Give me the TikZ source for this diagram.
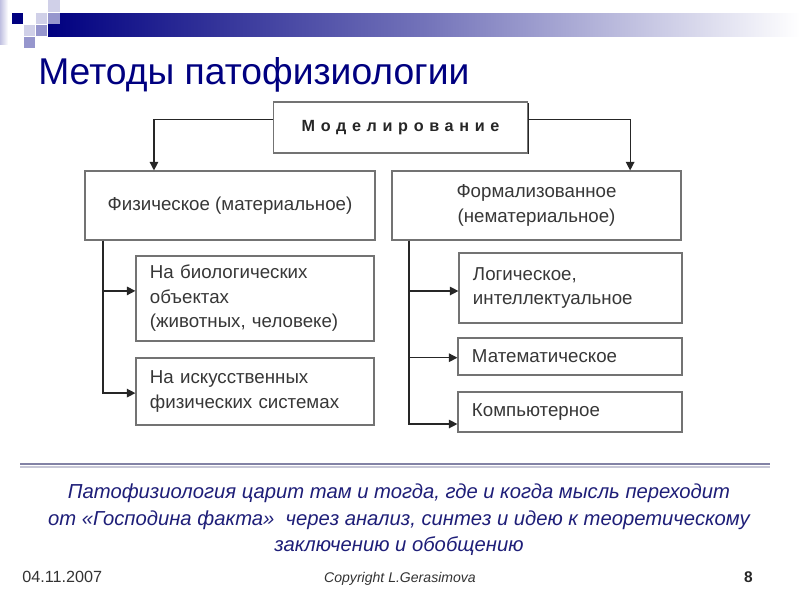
\documentclass[tikz,border=0pt]{standalone}
\usepackage{fontspec}
\setmainfont{Liberation Sans}
\newfontfamily\spacedfont[LetterSpace=35]{Liberation Sans}
\usetikzlibrary{positioning, arrows.meta, shadows}

\definecolor{navy}{RGB}{0,0,128}
\definecolor{quotecol}{RGB}{30,30,120}
\definecolor{boxtext}{RGB}{55,55,55}
\definecolor{sqlight}{RGB}{208,208,232}
\definecolor{sqmid}{RGB}{150,150,205}
\definecolor{rulecol}{RGB}{130,130,165}

\begin{document}
\begin{tikzpicture}[x=0.025cm, y=-0.025cm,
    box/.style={draw=black!55, line width=0.8pt, fill=white, text=boxtext,
        drop shadow={shadow xshift=0.8pt, shadow yshift=-0.8pt, fill=black!85, opacity=1},
        font=\fontsize{13.3}{17.4}\selectfont},
    bigbox/.style={box, align=center, inner sep=0pt},
    subbox/.style={box, align=left, inner xsep=0.35cm, inner ysep=0pt},
    conn/.style={draw=black!85, line width=0.9pt, -{Triangle[length=6pt, width=6pt]}}]

    \useasboundingbox (0,0) rectangle (800,600);

    % --- шапка слайда ---
    \shade[left color=navy, right color=white, middle color=navy!55] (48,13) rectangle (800,36);
    \shade[left color=sqmid!60, right color=white] (0,0) rectangle (8,44);
    \fill[navy]    (12,13) rectangle (23,24);
    \fill[sqlight] (48,0)  rectangle (60,12);
    \fill[sqlight] (36,13) rectangle (47,24);
    \fill[sqmid]   (48,13) rectangle (60,24);
    \fill[sqlight] (24,25) rectangle (35,36);
    \fill[sqmid]   (36,25) rectangle (47,36);
    \fill[sqmid]   (24,37) rectangle (35,48);

    \node[anchor=base west, inner sep=0pt, text=navy, font=\fontsize{26.5}{30}\selectfont] (title) at (38,84) {Методы патофизиологии};

    % --- схема ---
    \node[bigbox, minimum width=6.35cm, minimum height=1.275cm, font=\spacedfont\bfseries\fontsize{11.5}{13}\selectfont, text=black!85] (model) at (400.5,127.5) {Моделирование};

    \node[bigbox, minimum width=7.25cm, minimum height=1.725cm] (phys) at (230,205.5) {Физическое (материальное)};
    \node[bigbox, minimum width=7.225cm, minimum height=1.725cm] (formal) at (536.5,205.5) {Формализованное\\(нематериальное)};

    \node[subbox, text width=5.25cm, minimum height=2.125cm] (bio) at (255,298.5) {На биологических\\объектах\\(животных, человеке)};
    \node[subbox, text width=5.25cm, minimum height=1.675cm] (art) at (255,391.5) {На искусственных\\физических системах};

    \node[subbox, text width=4.875cm, minimum height=1.75cm] (logic) at (570.5,288) {Логическое,\\интеллектуальное};
    \node[subbox, text width=4.9cm, minimum height=0.925cm] (math) at (570,356.5) {Математическое};
    \node[subbox, text width=4.9cm, minimum height=1cm] (comp) at (570,412) {Компьютерное};

    % стрелки
    \draw[conn] ([yshift=0.2cm]model.west) -| ([xshift=-1.9cm]phys.north);
    \draw[conn] ([yshift=0.2cm]model.east) -| ([xshift=2.34cm]formal.north);

    \draw[conn] ([xshift=-3.175cm]phys.south) |- ([yshift=0.19cm]bio.west);
    \draw[conn] ([xshift=-3.175cm]phys.south) |- ([yshift=-0.04cm]art.west);

    \draw[conn] ([xshift=-3.19cm]formal.south) |- ([yshift=-0.075cm]logic.west);
    \draw[conn] ([xshift=-3.19cm]formal.south) |- ([yshift=-0.03cm]math.west);
    \draw[conn] ([xshift=-3.19cm]formal.south) |- ([yshift=-0.3cm]comp.west);

    % --- цитата ---
    \draw[rulecol, line width=1.6pt] (20,464) -- (770,464);
    \draw[rulecol!45, line width=1.2pt] (20,467) -- (770,467);

    \node[anchor=north, inner sep=0pt, text=quotecol, align=center, font=\itshape\fontsize{14.4}{18.8}\selectfont] (quote) at (399,484)
        {Патофизиология царит там и тогда, где и когда мысль переходит\\
         от «Господина факта»\ \ через анализ, синтез и идею к теоретическому\\
         заключению и обобщению};

    % --- подвал ---
    \node[anchor=base west, inner sep=0pt, text=black!80, font=\fontsize{11.5}{13}\selectfont] (date) at (22,582) {04.11.2007};
    \node[anchor=base, inner sep=0pt, text=black!80, font=\itshape\fontsize{10}{12}\selectfont] (copy) at (400,582) {Copyright L.Gerasimova};
    \node[anchor=base east, inner sep=0pt, text=black!85, font=\bfseries\fontsize{11}{12}\selectfont] (page) at (753,582) {8};

\end{tikzpicture}
\end{document}
